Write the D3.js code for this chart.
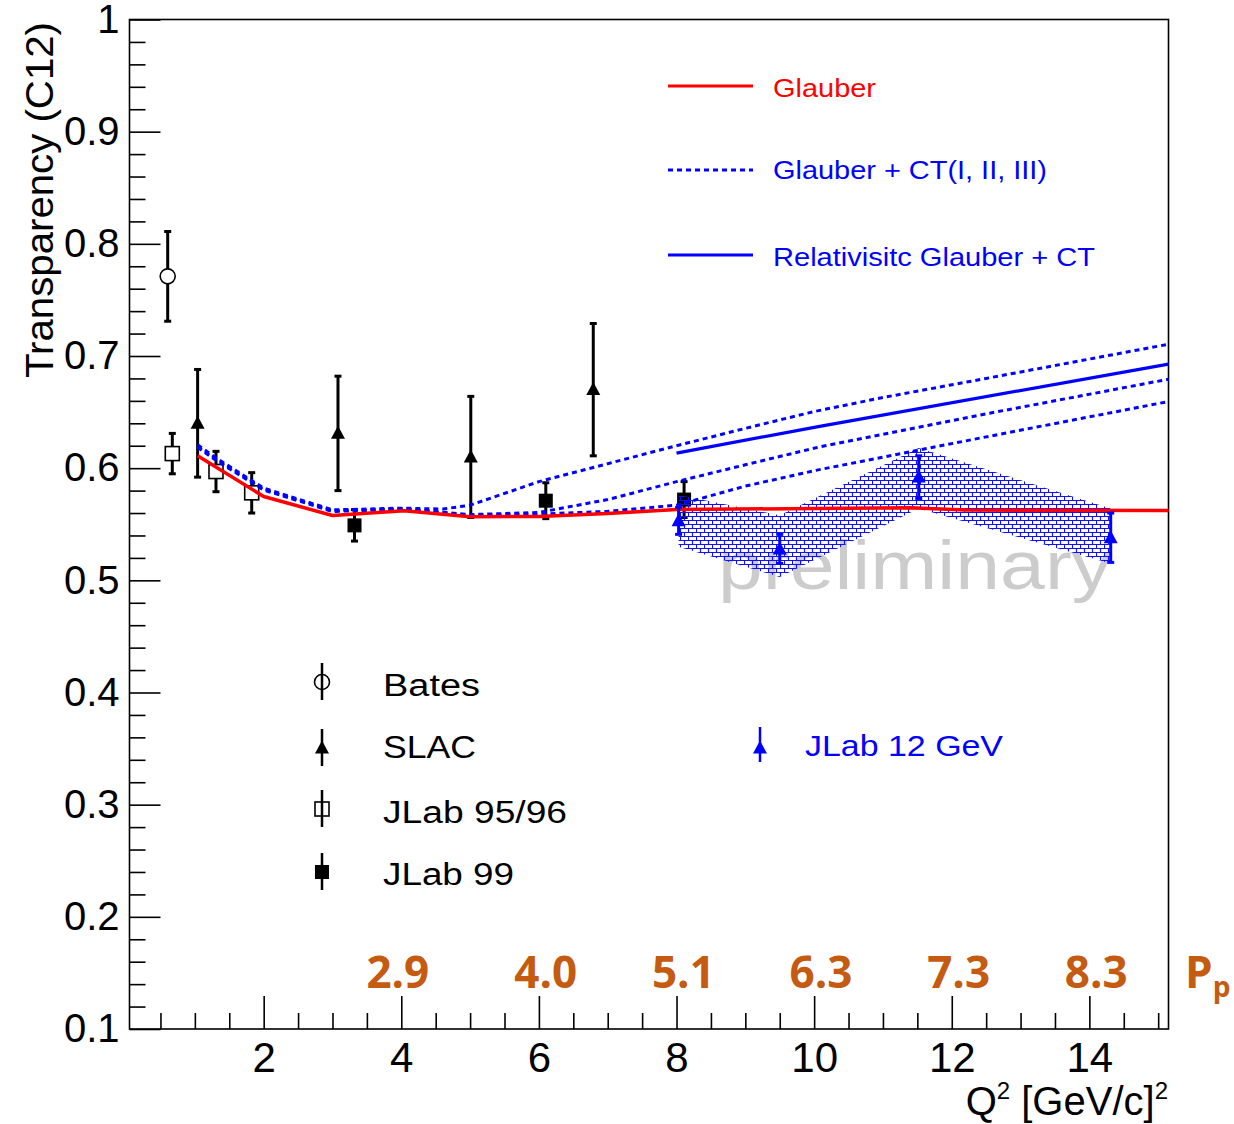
<!DOCTYPE html>
<html><head><meta charset="utf-8">
<script src="https://cdn.jsdelivr.net/npm/d3@7"></script>
<style>body{margin:0;background:#fff}</style>
</head><body>
<svg id="c" width="1234" height="1124"></svg>
<script>
// ---------------- data ----------------
const batesQ2 = [0.605], batesT = [0.771], batesErr = [0.040];
const slacQ2 = [1.04, 3.08, 5.01, 6.79], slacT = [0.640, 0.631, 0.610, 0.670], slacErr = [0.048, 0.051, 0.054, 0.059];
const jlab95Q2 = [0.672, 1.307, 1.826], jlab95T = [0.613, 0.597, 0.578], jlab95Err = [0.018, 0.018, 0.018];
const jlab99Q2 = [3.32, 6.10, 8.11], jlab99T = [0.549, 0.571, 0.572], jlab99Err = [0.014, 0.016, 0.016];
const jlab12Q2 = [8.03, 9.50, 11.52, 14.31], jlab12T = [0.553, 0.528, 0.592, 0.538], jlab12Err = [0.012, 0.013, 0.019, 0.022];
const jlab12SysLo = [0.530, 0.503, 0.564, 0.515], jlab12SysHi = [0.576, 0.558, 0.618, 0.564];

const glauberQ2 = [1.04, 2.0, 3.0, 4.04, 5.0, 6.0, 7.0, 8.0, 10.0, 11.4, 12.2, 15.15];
const glauberT  = [0.611, 0.5747, 0.5578, 0.562, 0.5566, 0.557, 0.5595, 0.5632, 0.564, 0.5647, 0.5627, 0.5622];
const ct1Q2 = [1.04, 1.3, 2.0, 3.0, 4.04, 4.6, 5.0, 6.0, 7.0, 8.0, 9.0, 10.0, 11.0, 12.5, 15.15];
const ct1T  = [0.6208, 0.6094, 0.5822, 0.5628, 0.5644, 0.5635, 0.567, 0.588, 0.604, 0.620, 0.6355, 0.6505, 0.663, 0.680, 0.7105];
const ct2Q2 = [1.04, 1.3, 2.0, 3.0, 4.04, 5.0, 6.0, 7.0, 8.0, 9.0, 10.06, 12.55, 15.15];
const ct2T  = [0.6195, 0.6082, 0.5812, 0.5620, 0.5638, 0.5586, 0.5605, 0.572, 0.588, 0.603, 0.6187, 0.649, 0.6793];
const ct3Q2 = [1.04, 1.3, 2.0, 3.0, 4.04, 5.0, 6.0, 7.0, 8.0, 9.0, 10.06, 12.55, 15.15];
const ct3T  = [0.6185, 0.6072, 0.5805, 0.5614, 0.5634, 0.558, 0.559, 0.5615, 0.567, 0.584, 0.5985, 0.6285, 0.6594];
const relQ2 = [8.0, 10.06, 15.15];
const relT  = [0.6134, 0.6371, 0.6927];

const xMajorTicks = [2, 4, 6, 8, 10, 12, 14];
const yMajorTicks = [0.1, 0.2, 0.3, 0.4, 0.5, 0.6, 0.7, 0.8, 0.9, 1.0];
const ppQ2 = [3.95, 6.1, 8.1, 10.1, 12.1, 14.1];
const ppLabels = ["2.9", "4.0", "5.1", "6.3", "7.3", "8.3"];

const theoryLegend = ["Glauber", "Glauber + CT(I, II, III)", "Relativisitc Glauber + CT"];
const dataLegend = ["Bates", "SLAC", "JLab 95/96", "JLab 99"];
const jlab12Legend = "JLab 12 GeV";

// ---------------- setup ----------------
const svg = d3.select('#c');
const FONT = "'Liberation Sans', Arial, Helvetica, sans-serif";
const x = d3.scaleLinear().domain([0.05, 15.15]).range([129.5, 1168.5]);
const y = d3.scaleLinear().domain([0.1, 1.0]).range([1029, 19.5]);
const RED = '#ff0000', BLUE = '#0000ff';

const defs = svg.append('defs');
const pat = defs.append('pattern').attr('id', 'brick').attr('patternUnits', 'userSpaceOnUse')
  .attr('width', 8).attr('height', 8);
pat.append('path').attr('d', 'M0,0.5H8M0,4.5H8M0.5,0.5V4.5M4.5,4.5V8.5')
  .attr('stroke', '#1010ff').attr('stroke-width', 1.15).attr('fill', 'none');

// preliminary watermark
svg.append('text').attr('x', 718).attr('y', 589).attr('font-family', FONT).attr('font-size', 68)
  .attr('fill', '#cccccc').attr('textLength', 394).attr('lengthAdjust', 'spacingAndGlyphs').text('preliminary');

// ---------------- axes ----------------
const xMinor = d3.range(1, 31).map(i => i * 0.5).filter(v => !xMajorTicks.includes(v) && v <= 15.1);
const yMinor = d3.range(5, 51).filter(i => i % 5 !== 0).map(i => +(i * 0.02).toFixed(2));

function styleAxis(fs) {
  return g => {
    g.select('.domain').remove();
    g.selectAll('.tick line').attr('stroke', '#000').attr('stroke-width', 1.6);
    g.selectAll('.tick text').attr('fill', '#000').attr('font-family', FONT).attr('font-size', fs);
  };
}
svg.append('g').attr('transform', 'translate(0,1029)')
  .call(d3.axisBottom(x).tickValues(xMinor).tickSizeInner(-16).tickSizeOuter(0).tickFormat(''))
  .call(styleAxis(42));
svg.append('g').attr('transform', 'translate(0,1029)')
  .call(d3.axisBottom(x).tickValues(xMajorTicks).tickSizeInner(-33).tickSizeOuter(0).tickPadding(13).tickFormat(d3.format('d')))
  .call(styleAxis(42));
svg.append('g').attr('transform', 'translate(129.5,0)')
  .call(d3.axisLeft(y).tickValues(yMinor).tickSizeInner(-16).tickSizeOuter(0).tickFormat(''))
  .call(styleAxis(40));
svg.append('g').attr('transform', 'translate(129.5,0)')
  .call(d3.axisLeft(y).tickValues(yMajorTicks).tickSizeInner(-31).tickSizeOuter(0).tickPadding(10)
    .tickFormat(d => d === 1 ? '1' : d.toFixed(1)))
  .call(styleAxis(40));

// frame
svg.append('rect').attr('x', 129.5).attr('y', 19.5).attr('width', 1039).attr('height', 1009.5)
  .attr('fill', 'none').attr('stroke', '#000').attr('stroke-width', 1.6);

// axis titles
const xt = svg.append('text').attr('x', 1168).attr('y', 1115).attr('text-anchor', 'end')
  .attr('font-family', FONT).attr('font-size', 40).attr('fill', '#000');
xt.append('tspan').text('Q');
xt.append('tspan').attr('font-size', 24).attr('dy', -16).text('2');
xt.append('tspan').attr('dy', 16).text(' [GeV/c]');
xt.append('tspan').attr('font-size', 24).attr('dy', -16).text('2');
svg.append('text').attr('transform', 'translate(53,22) rotate(-90)').attr('text-anchor', 'end')
  .attr('font-family', FONT).attr('font-size', 38).attr('fill', '#000')
  .attr('textLength', 356).attr('lengthAdjust', 'spacingAndGlyphs').text('Transparency (C12)');

// ---------------- markers ----------------
function triPath(cx, cy, s) {
  const h = s * 0.93;
  return `M${cx},${cy - h * 0.58}L${cx + s / 2},${cy + h * 0.42}L${cx - s / 2},${cy + h * 0.42}Z`;
}
function errBars(g, q, t, e, color) {
  q.forEach((qq, i) => {
    const cx = x(qq), top = y(t[i] + e[i]), bot = y(t[i] - e[i]);
    g.append('line').attr('x1', cx).attr('x2', cx).attr('y1', top).attr('y2', bot)
      .attr('stroke', color).attr('stroke-width', 3);
    [top, bot].forEach(yy => g.append('line').attr('x1', cx - 3.5).attr('x2', cx + 3.5)
      .attr('y1', yy).attr('y2', yy).attr('stroke', color).attr('stroke-width', 3));
  });
}
function drawMarker(g, type, cx, cy, color, legend) {
  if (type === 'circle') {
    g.append('circle').attr('cx', cx).attr('cy', cy).attr('r', 7.5)
      .attr('fill', legend ? 'none' : '#fff').attr('stroke', color).attr('stroke-width', 1.6);
  } else if (type === 'osquare') {
    g.append('rect').attr('x', cx - 7).attr('y', cy - 7).attr('width', 14).attr('height', 14)
      .attr('fill', legend ? 'none' : '#fff').attr('stroke', color).attr('stroke-width', 1.6);
  } else if (type === 'fsquare') {
    g.append('rect').attr('x', cx - 7).attr('y', cy - 7).attr('width', 14).attr('height', 14).attr('fill', color);
  } else if (type === 'tri') {
    g.append('path').attr('d', triPath(cx, cy, 14)).attr('fill', color);
  }
}
function drawSeries(q, t, e, type, color) {
  const g = svg.append('g');
  errBars(g, q, t, e, color);
  q.forEach((qq, i) => drawMarker(g, type, x(qq), y(t[i]), color, false));
}

drawSeries(batesQ2, batesT, batesErr, 'circle', '#000');
drawSeries(jlab95Q2, jlab95T, jlab95Err, 'osquare', '#000');
drawSeries(slacQ2, slacT, slacErr, 'tri', '#000');
drawSeries(jlab99Q2, jlab99T, jlab99Err, 'fsquare', '#000');

// systematic band
const bandPts = jlab12Q2.map((q, i) => [x(q), y(jlab12SysHi[i])])
  .concat(jlab12Q2.map((q, i) => [x(q), y(jlab12SysLo[i])]).reverse());
svg.append('path').attr('d', d3.line()(bandPts) + 'Z').attr('fill', 'url(#brick)').attr('stroke', 'none');

// theory lines
const lineGen = d3.line().x(d => x(d[0])).y(d => y(d[1]));
function curve(q, t, color, dashed, w) {
  const p = svg.append('path').attr('d', lineGen(q.map((v, i) => [v, t[i]])))
    .attr('fill', 'none').attr('stroke', color).attr('stroke-width', w).attr('stroke-linejoin', 'round');
  if (dashed) p.attr('stroke-dasharray', '5,4');
}
curve(ct3Q2, ct3T, BLUE, true, 3);
curve(ct2Q2, ct2T, BLUE, true, 3);
curve(ct1Q2, ct1T, BLUE, true, 3);
curve(glauberQ2, glauberT, RED, false, 3.5);
curve(relQ2, relT, BLUE, false, 3.2);

drawSeries(jlab12Q2, jlab12T, jlab12Err, 'tri', BLUE);

// ---------------- legends ----------------
const tl = svg.append('g');
const tlY = [86, 170, 255], tlBase = [97, 179, 266], tlW = [103, 274, 322];
const tlColor = [RED, BLUE, BLUE], tlDash = [false, true, false];
theoryLegend.forEach((lab, i) => {
  const ln = tl.append('line').attr('x1', 668).attr('x2', 753).attr('y1', tlY[i]).attr('y2', tlY[i])
    .attr('stroke', tlColor[i]).attr('stroke-width', 3);
  if (tlDash[i]) ln.attr('stroke-dasharray', '5,4');
  tl.append('text').attr('x', 773).attr('y', tlBase[i]).attr('font-family', FONT).attr('font-size', 26)
    .attr('fill', tlColor[i]).attr('textLength', tlW[i]).attr('lengthAdjust', 'spacingAndGlyphs').text(lab);
});

const dl = svg.append('g');
const dlY = [682, 748, 809, 872], dlBase = [696, 758, 823, 885], dlW = [97, 93, 184, 131];
const dlType = ['circle', 'tri', 'osquare', 'fsquare'];
dataLegend.forEach((lab, i) => {
  dl.append('line').attr('x1', 322).attr('x2', 322).attr('y1', dlY[i] - 19).attr('y2', dlY[i] + 18)
    .attr('stroke', '#000').attr('stroke-width', 2.5);
  drawMarker(dl, dlType[i], 322, dlY[i], '#000', true);
  dl.append('text').attr('x', 383).attr('y', dlBase[i]).attr('font-family', FONT).attr('font-size', 31)
    .attr('fill', '#000').attr('textLength', dlW[i]).attr('lengthAdjust', 'spacingAndGlyphs').text(lab);
});
dl.append('line').attr('x1', 760).attr('x2', 760).attr('y1', 727).attr('y2', 762)
  .attr('stroke', BLUE).attr('stroke-width', 2.5);
drawMarker(dl, 'tri', 760, 748, BLUE, true);
dl.append('text').attr('x', 805).attr('y', 756).attr('font-family', FONT).attr('font-size', 30)
  .attr('fill', BLUE).attr('textLength', 198).attr('lengthAdjust', 'spacingAndGlyphs').text(jlab12Legend);

// ---------------- proton momentum labels ----------------
const ORANGE = '#c55a11';
svg.append('g').selectAll('text').data(ppQ2).join('text')
  .attr('x', d => x(d)).attr('y', 988).attr('text-anchor', 'middle')
  .attr('font-family', "'Open Sans', sans-serif").attr('font-weight', 700).attr('font-size', 44)
  .attr('fill', ORANGE).text((d, i) => ppLabels[i]);
const pp = svg.append('text').attr('x', 1185).attr('y', 988)
  .attr('font-family', "'Open Sans', sans-serif").attr('font-weight', 700).attr('font-size', 44).attr('fill', ORANGE);
pp.append('tspan').text('P');
pp.append('tspan').attr('font-size', 28).attr('dy', 9).text('p');
</script>
</body></html>
